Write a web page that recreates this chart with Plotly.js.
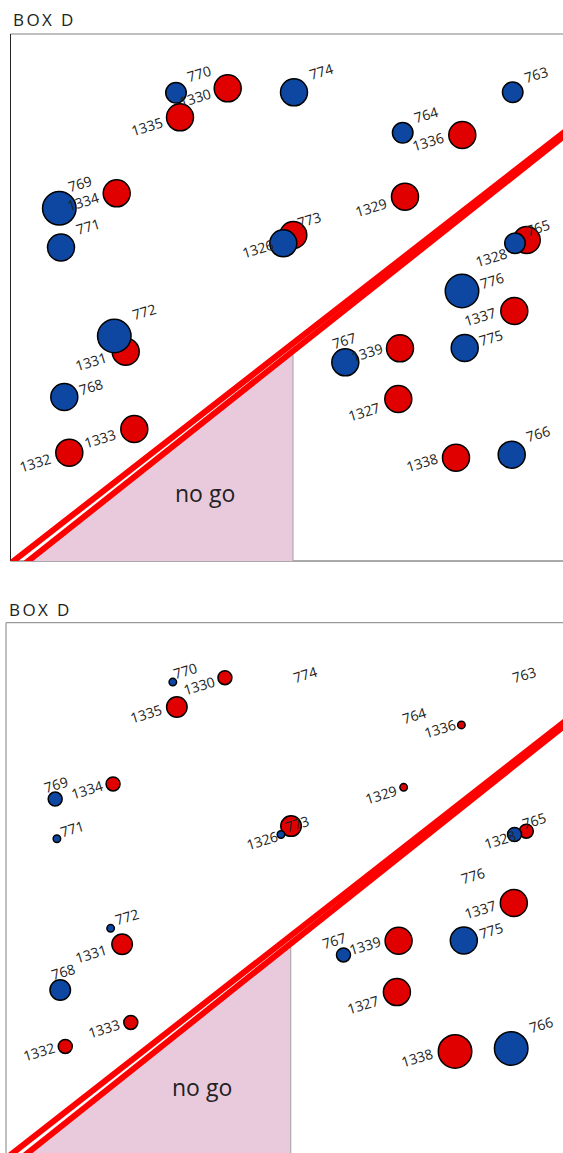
<!DOCTYPE html>
<html>
<head>
<meta charset="utf-8">
<script src="https://cdn.plot.ly/plotly-3.0.1.min.js"></script>
<style>
html, body { margin: 0; padding: 0; background: #ffffff; }
#chart { width: 563px; height: 1153px; }
.annotation[data-index="0"] text, .annotation[data-index="1"] text { letter-spacing: 2.4px; }
</style>
</head>
<body>
<div id="chart"></div>
<script>
// ---------------- DATA ----------------
const panelTitles = ['BOX D', 'BOX D'];

// blue group (7xx)
const blueIds = ['770', '774', '769', '771', '773', '764', '763', '765', '772', '768', '776', '767', '775', '766'];
const blueX   = [165.5, 283.5, 48.8, 50.5, 272.8, 392.2, 502.2, 504.5, 103.8, 53.8, 451.5, 334.8, 454.2, 501.2];
const blueY   = [468.3, 468.7, 352.7, 313.5, 317.7, 428.3, 468.7, 317.7, 225.0, 164.0, 270.0, 198.7, 213.0, 106.3];
const blueLevelTop    = [3, 4, 5, 4, 4, 3, 3, 3, 5, 4, 5, 4, 4, 4];
const blueLevelBottom = [1, 0, 2, 1, 1, 0, 0, 2, 1, 3, 0, 2, 4, 5];

// red group (13xx)
const redIds = ['1330', '1335', '1334', '1326', '1336', '1329', '1328', '1331', '1333', '1332', '1337', '1339', '1327', '1338'];
const redX   = [217.2, 169.5, 106.2, 282.8, 451.8, 394.5, 516.2, 115.2, 123.8, 58.8, 503.8, 389.5, 387.8, 445.5];
const redY   = [472.7, 443.7, 367.7, 326.0, 426.0, 364.3, 321.0, 209.3, 132.0, 108.3, 250.0, 212.7, 162.0, 103.3];
const redLevelTop    = [4, 4, 4, 4, 4, 4, 4, 4, 4, 4, 4, 4, 4, 4];
const redLevelBottom = [2, 3, 2, 3, 1, 1, 2, 3, 2, 2, 4, 4, 4, 5];

// walls and no-go zone
const wallUpperX = [3.0, 552.5];
const wallUpperY = [0, 428];
const wallLowerX = [17.8, 552.5];
const wallLowerY = [0, 424];
const noGoEdgeX = 282.5;
const noGoText = 'no go';
const noGoTextPos = [194.5, 68];

// ---------------- STYLE / LABEL PLACEMENT (pixel offsets of label centre from marker centre) ----------------
const labelOffsetTop = {
  '770': [23, -19], '774': [26.5, -21], '769': [21, -24.5], '771': [26.5, -21], '773': [26, -24],
  '764': [23.5, -18], '763': [23, -18], '765': [23, -15.5], '772': [30, -24.5], '768': [27, -10],
  '776': [30, -10], '767': [-1.5, -22], '775': [26.5, -10], '766': [26.5, -21],
  '1330': [-32.5, 9], '1335': [-33.5, 9.5], '1334': [-34, 8.5], '1326': [-35.5, 14], '1336': [-34, 7],
  '1329': [-34.5, 11], '1328': [-36, 17], '1331': [-35, 10], '1333': [-34.5, 9.5], '1332': [-34, 9.5],
  '1337': [-34, 6], '1339': [-33.5, 4.5], '1327': [-34, 12.5], '1338': [-34.5, 5]
};
const labelOffsetBottom = {
  '770': [12.5, -12], '774': [13, -7.5], '769': [0.5, -14.5], '771': [15.5, -10.5], '773': [16.5, -11],
  '764': [12.5, -7.5], '763': [12, -7.5], '765': [19.5, -14.5], '772': [16.5, -11.5], '768': [3, -19],
  '776': [12, -7], '767': [-9.5, -14.5], '775': [27, -10], '766': [30, -24],
  '1330': [-26, 7.5], '1335': [-30.5, 6.5], '1334': [-26, 6], '1326': [-29.5, 14], '1336': [-21.5, 4],
  '1329': [-22.5, 7], '1328': [-26.5, 8.5], '1331': [-31, 9.5], '1333': [-27, 6.5], '1332': [-26, 5.5],
  '1337': [-34, 6], '1339': [-34, 5], '1327': [-34, 12.5], '1338': [-38, 6]
};

const BLUE = '#0d47a1', RED = '#e00000', PINK = '#e9cadd';
const LABEL_FONT = { family: 'Open Sans, Noto Sans, sans-serif', size: 14, color: '#222222' };
const LINE_W = 1.5;
function diam(level) { return level > 0 ? 2.5 + 6.5 * level : 0; }

function lerpY(xs, ys, x) { return ys[0] + (ys[1] - ys[0]) * (x - xs[0]) / (xs[1] - xs[0]); }
function extend(xs, ys) {
  const x0 = xs[0] - 10, x1 = xs[1] + 30;
  return { x: [x0, x1], y: [lerpY(xs, ys, x0), lerpY(xs, ys, x1)] };
}

const panels = [
  { xa: 'x', ya: 'y', blueLv: blueLevelTop, redLv: redLevelTop, title: panelTitles[0], titlePx: [17, 20], off: labelOffsetTop },
  { xa: 'x2', ya: 'y2', blueLv: blueLevelBottom, redLv: redLevelBottom, title: panelTitles[1], titlePx: [13, 609], off: labelOffsetBottom }
];

const W = 563, H = 1153;
const traces = [];
const annotations = [];
const shapes = [];

// titles first (data-index 0,1)
panels.forEach(p => {
  annotations.push({
    text: p.title, xref: 'paper', yref: 'paper',
    x: p.titlePx[0] / W, y: 1 - p.titlePx[1] / H, xanchor: 'left', yanchor: 'middle',
    showarrow: false, font: { family: 'Open Sans, sans-serif', size: 17, color: '#222222' }
  });
});

panels.forEach(p => {
  const lowU = extend(wallUpperX, wallUpperY);
  const lowL = extend(wallLowerX, wallLowerY);
  const xStart = wallLowerX[0];
  const yTop = lerpY(wallLowerX, wallLowerY, noGoEdgeX);
  // no-go zone
  traces.push({
    type: 'scatter', mode: 'lines', xaxis: p.xa, yaxis: p.ya, hoverinfo: 'skip',
    x: [xStart, noGoEdgeX, noGoEdgeX, xStart], y: [0, 0, yTop, 0],
    fill: 'toself', fillcolor: PINK, line: { width: 0 }
  });
  traces.push({
    type: 'scatter', mode: 'lines', xaxis: p.xa, yaxis: p.ya, hoverinfo: 'skip',
    x: [noGoEdgeX, noGoEdgeX], y: [-5, yTop], line: { color: '#a0a0a0', width: 1 }
  });
  // walls
  [lowU, lowL].forEach(l => traces.push({
    type: 'scatter', mode: 'lines', xaxis: p.xa, yaxis: p.ya, hoverinfo: 'skip',
    x: l.x, y: l.y, line: { color: '#ff0000', width: 6 }
  }));
  // red markers
  traces.push({
    type: 'scatter', mode: 'markers', xaxis: p.xa, yaxis: p.ya,
    x: redX, y: redY, text: redIds,
    marker: {
      color: RED, opacity: 1, size: p.redLv.map(l => Math.max(diam(l) - LINE_W, 0)),
      line: { color: '#000000', width: p.redLv.map(l => l > 0 ? LINE_W : 0) }
    }
  });
  // blue markers
  traces.push({
    type: 'scatter', mode: 'markers', xaxis: p.xa, yaxis: p.ya,
    x: blueX, y: blueY, text: blueIds,
    marker: {
      color: BLUE, opacity: 1, size: p.blueLv.map(l => Math.max(diam(l) - LINE_W, 0)),
      line: { color: '#000000', width: p.blueLv.map(l => l > 0 ? LINE_W : 0) }
    }
  });
  // labels
  const addLabels = (ids, xs, ys) => ids.forEach((id, i) => {
    const o = p.off[id];
    annotations.push({
      text: id, xref: p.xa, yref: p.ya, x: xs[i], y: ys[i],
      xanchor: 'center', yanchor: 'middle', xshift: o[0], yshift: -o[1],
      textangle: -17, showarrow: false, font: LABEL_FONT
    });
  });
  addLabels(blueIds, blueX, blueY);
  addLabels(redIds, redX, redY);
  annotations.push({
    text: noGoText, xref: p.xa, yref: p.ya, x: noGoTextPos[0], y: noGoTextPos[1],
    xanchor: 'center', yanchor: 'middle', showarrow: false,
    font: { family: 'Open Sans, sans-serif', size: 23, color: '#222222' }
  });
});

// frame lines
function frameLine(xa, ya, x0, x1, y0, y1, color) {
  return { type: 'line', xref: xa + ' domain', yref: ya + ' domain', x0, x1, y0, y1,
           line: { color, width: 1 }, layer: 'below' };
}
shapes.push(frameLine('x', 'y', 0, 1, 1, 1, '#808080'));
shapes.push(frameLine('x', 'y', 0, 1, 0, 0, '#555555'));
shapes.push(frameLine('x', 'y', 0, 0, 0, 1, '#222222'));
shapes.push(frameLine('x2', 'y2', 0, 1, 1, 1, '#808080'));
shapes.push(frameLine('x2', 'y2', 0, 0, 0, 1, '#808080'));

function axis(domain, range, anchor) {
  return { domain, range, anchor, showgrid: false, zeroline: false, showline: false,
           showticklabels: false, ticks: '', fixedrange: true };
}

const layout = {
  width: W, height: H, margin: { l: 0, r: 0, t: 0, b: 0 },
  paper_bgcolor: '#ffffff', plot_bgcolor: '#ffffff', showlegend: false,
  xaxis:  axis([10.5 / W, 1], [0, 552.5], 'y'),
  yaxis:  axis([(H - 561) / H, (H - 34) / H], [0, 527], 'x'),
  xaxis2: axis([6 / W, 1], [0, 552.6], 'y2'),
  yaxis2: axis([0, (H - 622.7) / H], [3, 527], 'x2'),
  annotations, shapes, hovermode: false
};

Plotly.newPlot('chart', traces, layout, { displayModeBar: false, staticPlot: true });
</script>
</body>
</html>
